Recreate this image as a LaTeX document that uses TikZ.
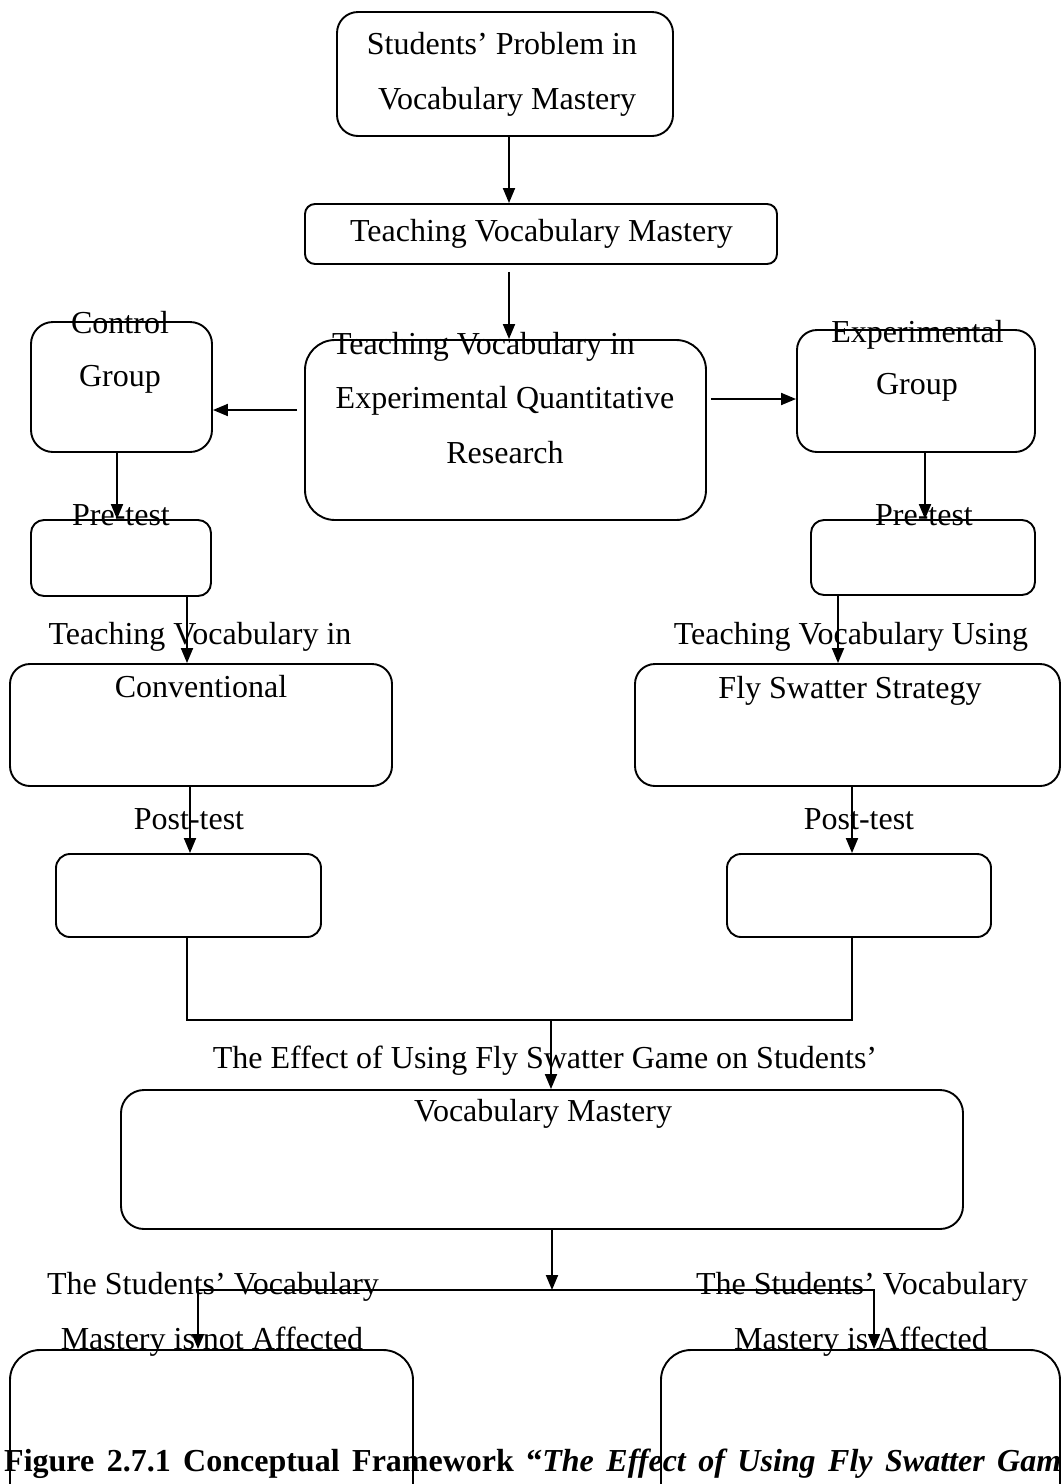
\documentclass[tikz,border=0pt]{standalone}
\usepackage{fontspec}
\setmainfont{Liberation Serif}
\usetikzlibrary{arrows.meta,calc}
\tikzset{
  rbox/.style={draw, line width=1.9pt, rounded corners=#1, inner sep=0pt, rectangle},
  lbl/.style={anchor=base, inner sep=0pt, font=\fontsize{32pt}{38pt}\selectfont},
  conn/.style={line width=1.9pt},
  arr/.style={conn, -{Triangle[length=15pt,width=12pt]}},
}
\begin{document}
\begin{tikzpicture}[x=1pt,y=-1pt]
\useasboundingbox (0,0) rectangle (1062,1484);
\clip (0,0) rectangle (1062,1484);
% boxes
\node[rbox=21pt, minimum width=336pt, minimum height=124pt] (top) at (505,74) {};
\node[rbox=10pt, minimum width=472pt, minimum height=60pt] (tvm) at (541,234) {};
\node[rbox=30pt, minimum width=401pt, minimum height=180pt] (cen) at (505.5,430) {};
\node[rbox=22pt, minimum width=181pt, minimum height=130pt] (ctrl) at (121.5,387) {};
\node[rbox=20pt, minimum width=238pt, minimum height=122pt] (expg) at (916,391) {};
\node[rbox=13pt, minimum width=180pt, minimum height=76pt] (prel) at (121,558) {};
\node[rbox=13pt, minimum width=224pt, minimum height=75pt] (prer) at (923,557.5) {};
\node[rbox=20pt, minimum width=382pt, minimum height=122pt] (conv) at (201,725) {};
\node[rbox=20pt, minimum width=425pt, minimum height=122pt] (fly) at (847.5,725) {};
\node[rbox=14pt, minimum width=265pt, minimum height=83pt] (postl) at (188.5,895.5) {};
\node[rbox=14pt, minimum width=264pt, minimum height=83pt] (postr) at (859,895.5) {};
\node[rbox=23pt, minimum width=842pt, minimum height=139pt] (big) at (542,1159.5) {};
\node[rbox=30pt, minimum width=403pt, minimum height=210pt] (botl) at (211.5,1455) {};
\node[rbox=30pt, minimum width=399pt, minimum height=210pt] (botr) at (860.5,1455) {};
% texts
\node[lbl] (t1) at (502,54) {Students’ Problem in};
\node[lbl] (t2) at (507,109) {Vocabulary Mastery};
\node[lbl] (t3) at (541.5,241) {Teaching Vocabulary Mastery};
\node[lbl] (t4) at (483.5,354) {Teaching Vocabulary in};
\node[lbl] (t5) at (505,408) {Experimental Quantitative};
\node[lbl] (t6) at (505,463) {Research};
\node[lbl] (t7) at (120,333) {Control};
\node[lbl] (t8) at (120,386) {Group};
\node[lbl] (t9) at (917.5,342) {Experimental};
\node[lbl] (t10) at (917,394) {Group};
\node[lbl] (t11) at (121,525) {Pre-test};
\node[lbl] (t12) at (924,525) {Pre-test};
\node[lbl] (t13) at (200,644) {Teaching Vocabulary in};
\node[lbl] (t14) at (201,697) {Conventional};
\node[lbl] (t15) at (851,644) {Teaching Vocabulary Using};
\node[lbl] (t16) at (850,698) {Fly Swatter Strategy};
\node[lbl] (t17) at (189,829) {Post-test};
\node[lbl] (t18) at (859,829) {Post-test};
\node[lbl] (t19) at (545,1068) {The Effect of Using Fly Swatter Game on Students’};
\node[lbl] (t20) at (543,1121) {Vocabulary Mastery};
\node[lbl] (t21) at (213,1294) {The Students’ Vocabulary};
\node[lbl] (t22) at (212,1349) {Mastery is not Affected};
\node[lbl] (t23) at (862,1294) {The Students’ Vocabulary};
\node[lbl] (t24) at (861,1349) {Mastery is Affected};
\node[anchor=base west, inner sep=0pt, font=\fontsize{32pt}{38pt}\selectfont\bfseries] (cap) at (4,1471)
  {\makebox[1057pt][s]{Figure 2.7.1 Conceptual Framework “\textit{The Effect of Using Fly Swatter Gam}}};
% connectors
\draw[arr] ([xshift=4pt]top.south) -- ([xshift=4pt]top.south |- tvm.north);
\draw[arr] ([xshift=-32pt,yshift=-7pt]tvm.south) -- ([xshift=-32pt]tvm.south |- cen.north);
\coordinate (la) at ([xshift=-7pt,yshift=20pt]cen.west);
\draw[arr] (la) -- (la -| ctrl.east);
\coordinate (ra) at ([xshift=4pt,yshift=31pt]cen.east);
\draw[arr] (ra) -- (ra -| expg.west);
\draw[arr] ([xshift=-4.5pt]ctrl.south) -- ([xshift=-4.5pt]ctrl.south |- prel.north);
\draw[arr] ([xshift=9pt]expg.south) -- ([xshift=9pt]expg.south |- prer.north);
\draw[arr] ([xshift=66pt]prel.south) -- ([xshift=66pt]prel.south |- conv.north);
\draw[arr] ([xshift=-85pt]prer.south) -- ([xshift=-85pt]prer.south |- fly.north);
\draw[arr] ([xshift=-11pt]conv.south) -- ([xshift=-11pt]conv.south |- postl.north);
\draw[arr] ([xshift=4.5pt]fly.south) -- ([xshift=4.5pt]fly.south |- postr.north);
\coordinate (mid) at (551,1020);
\draw[conn] ([xshift=-1.5pt]postl.south) |- (mid) -| ([xshift=-7pt]postr.south);
\draw[arr] (mid) -- (mid |- big.north);
\coordinate (sp) at (552,1290);
\draw[arr] ([xshift=10pt]big.south) -- (sp);
\draw[arr, line width=1.5pt] (sp) -| ([xshift=-13.5pt]botl.north);
\draw[arr, line width=1.5pt] (sp) -| ([xshift=13.5pt]botr.north);
\end{tikzpicture}
\end{document}
